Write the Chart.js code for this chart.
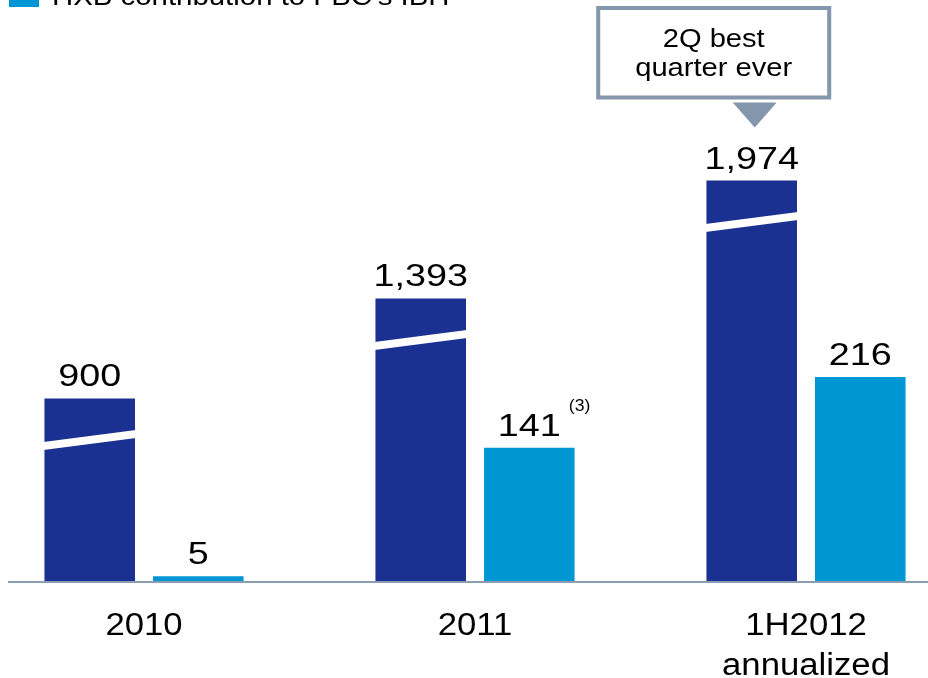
<!DOCTYPE html>
<html>
<head>
<meta charset="utf-8">
<script src="https://cdn.jsdelivr.net/npm/chart.js@4.4.1/dist/chart.umd.min.js"></script>
<style>
  html, body { margin: 0; padding: 0; background: #fff; }
</style>
</head>
<body>
<canvas id="chart" width="928" height="678"></canvas>
<script>
// Chart data
const categories = ["2010", "2011", ["1H2012", "annualized"]];
const fbcValues = [900, 1393, 1974];   // dark bars, drawn on a compressed scale
const hxbValues = [5, 141, 216];       // light bars
const hxbNotes = ["", "(3)", ""];
const legendLabel = "HXB contribution to FBC's IBH";
const calloutLines = ["2Q best", "quarter ever"];

const darkBlue = "#1b3191";
const lightBlue = "#0095d3";
const frameGrey = "#8396ab";
const fontFamily = "'Liberation Sans', Arial, sans-serif";

Chart.defaults.font.family = fontFamily;

// the slide text is a little wider than plain Arial, so stretch it sideways
function drawText(ctx, txt, x, y, size, sx, align) {
    ctx.save();
    ctx.translate(x, y);
    ctx.scale(sx, 1);
    ctx.font = size + "px " + fontFamily;
    ctx.textAlign = align || "center";
    ctx.fillText(txt, 0, 0);
    const w = ctx.measureText(txt).width * sx;
    ctx.restore();
    return w;
}

// Draws the baseline, break marks, labels, legend and callout
const decorPlugin = {
    id: "decor",
    afterDatasetsDraw: function (chart) {
        const ctx = chart.ctx;
        const y0 = chart.scales.yHxb.getPixelForValue(0);
        ctx.save();
        ctx.textBaseline = "alphabetic";

        // baseline
        ctx.fillStyle = "#8c9db2";
        ctx.fillRect(8, y0, chart.width - 8, 2);

        // break stripes on the dark bars
        chart.getDatasetMeta(0).data.forEach(function (bar) {
            const l = bar.x - bar.width / 2, r = bar.x + bar.width / 2;
            ctx.fillStyle = "#fff";
            ctx.beginPath();
            ctx.moveTo(l - 1, bar.y + 43.5);
            ctx.lineTo(r + 1, bar.y + 31.5);
            ctx.lineTo(r + 1, bar.y + 39.5);
            ctx.lineTo(l - 1, bar.y + 51.5);
            ctx.closePath();
            ctx.fill();
        });

        ctx.fillStyle = "#000";

        // value labels
        [fbcValues, hxbValues].forEach(function (vals, di) {
            chart.getDatasetMeta(di).data.forEach(function (bar, i) {
                const txt = vals[i].toLocaleString("en-US");
                const w = drawText(ctx, txt, bar.x, bar.y - 12, 32, 1.18);
                if (di === 1 && hxbNotes[i]) {
                    drawText(ctx, hxbNotes[i], bar.x + w / 2 + 8, bar.y - 37, 16, 1.1, "left");
                }
            });
        });

        // category labels
        const xs = chart.scales.x;
        categories.forEach(function (c, i) {
            const lines = Array.isArray(c) ? c : [c];
            lines.forEach(function (ln, k) {
                drawText(ctx, ln, xs.getPixelForValue(i), y0 + 54 + k * 39.5, 31, 1.12);
            });
        });

        // legend (cut off at the top)
        ctx.fillStyle = lightBlue;
        ctx.fillRect(9, -16, 30, 23);
        ctx.fillStyle = "#000";
        drawText(ctx, legendLabel, 52, 5, 26, 1.13, "left");

        // callout above the 1H2012 dark bar
        const top = chart.getDatasetMeta(0).data[2];
        const apexX = top.x + 3, apexY = top.y - 53;
        ctx.fillStyle = frameGrey;
        ctx.beginPath();
        ctx.moveTo(apexX - 22, apexY - 25);
        ctx.lineTo(apexX + 22, apexY - 25);
        ctx.lineTo(apexX, apexY);
        ctx.closePath();
        ctx.fill();

        const boxCx = top.x - 38;
        ctx.strokeStyle = frameGrey;
        ctx.lineWidth = 4;
        ctx.strokeRect(boxCx - 115.5, 8, 231, 89.5);
        ctx.fillStyle = "#000";
        drawText(ctx, calloutLines[0], boxCx, 47, 26, 1.12);
        drawText(ctx, calloutLines[1], boxCx, 76, 26, 1.12);

        ctx.restore();
    }
};

var ctx1 = document.getElementById("chart").getContext("2d");
new Chart(ctx1, {
    type: "bar",
    data: {
        labels: categories,
        datasets: [{
            label: "FBC",
            data: fbcValues,
            yAxisID: "yFbc",
            backgroundColor: darkBlue,
            borderWidth: 0,
            clip: false
        }, {
            label: legendLabel,
            data: hxbValues,
            yAxisID: "yHxb",
            backgroundColor: lightBlue,
            borderWidth: 0,
            clip: false
        }]
    },
    options: {
        responsive: false,
        animation: false,
        categoryPercentage: 0.656,
        barPercentage: 0.834,
        layout: { padding: { left: 144, right: 122, top: 0, bottom: 0 } },
        plugins: {
            legend: { display: false },
            tooltip: { enabled: false }
        },
        scales: {
            x: {
                offset: false,
                grid: { display: false, drawTicks: false },
                border: { display: false },
                ticks: { display: false },
                afterFit: function (scale) { scale.height = 97; }
            },
            yFbc: { display: false, min: 0, max: 2864 },
            yHxb: { display: false, min: 0, max: 615 }
        }
    },
    plugins: [decorPlugin]
});
</script>
</body>
</html>
